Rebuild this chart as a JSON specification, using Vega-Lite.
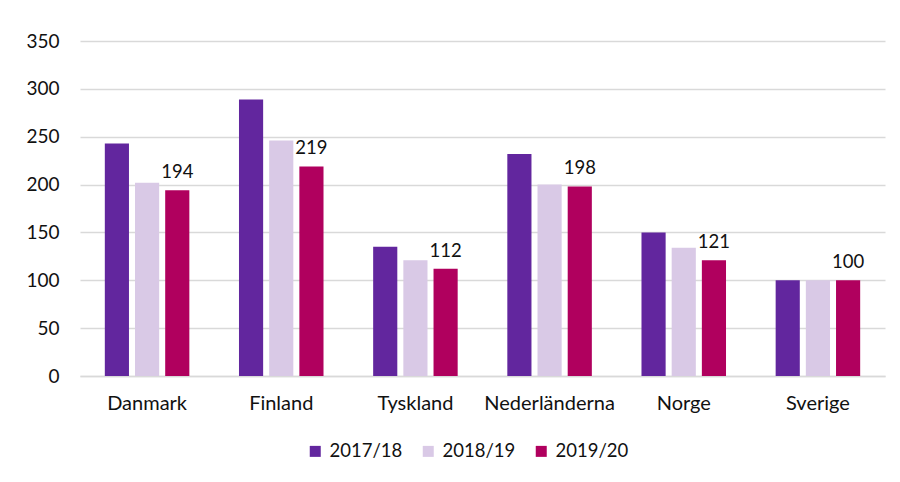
{
  "$schema": "https://vega.github.io/schema/vega-lite/v6.json",
  "width": 805,
  "height": 335,
  "autosize": {"type": "none"},
  "padding": {"left": 80, "top": 41, "right": 15, "bottom": 106},
  "background": "white",
  "config": {
    "font": "Lato",
    "view": {"stroke": null}
  },
  "data": {
    "values": [
      {"land": "Danmark", "ar": "2017/18", "v": 243},
      {"land": "Danmark", "ar": "2018/19", "v": 202},
      {"land": "Danmark", "ar": "2019/20", "v": 194},
      {"land": "Finland", "ar": "2017/18", "v": 289},
      {"land": "Finland", "ar": "2018/19", "v": 246},
      {"land": "Finland", "ar": "2019/20", "v": 219},
      {"land": "Tyskland", "ar": "2017/18", "v": 135},
      {"land": "Tyskland", "ar": "2018/19", "v": 121},
      {"land": "Tyskland", "ar": "2019/20", "v": 112},
      {"land": "Nederländerna", "ar": "2017/18", "v": 232},
      {"land": "Nederländerna", "ar": "2018/19", "v": 200},
      {"land": "Nederländerna", "ar": "2019/20", "v": 198},
      {"land": "Norge", "ar": "2017/18", "v": 150},
      {"land": "Norge", "ar": "2018/19", "v": 134},
      {"land": "Norge", "ar": "2019/20", "v": 121},
      {"land": "Sverige", "ar": "2017/18", "v": 100},
      {"land": "Sverige", "ar": "2018/19", "v": 100},
      {"land": "Sverige", "ar": "2019/20", "v": 100}
    ]
  },
  "encoding": {
    "x": {
      "field": "land", "type": "nominal", "sort": null,
      "scale": {"paddingInner": 0.37, "paddingOuter": 0.185},
      "axis": {"title": null, "labelAngle": 0, "labelFontSize": 20, "labelColor": "#111111", "labelPadding": 17, "ticks": false, "domain": true, "domainColor": "#d9d9d9", "domainWidth": 1.5, "grid": false}
    },
    "xOffset": {"field": "ar", "type": "nominal", "scale": {"paddingInner": 0.2, "paddingOuter": 0}},
    "y": {
      "field": "v", "type": "quantitative",
      "scale": {"domain": [0, 350], "nice": false},
      "axis": {"title": null, "values": [0, 50, 100, 150, 200, 250, 300, 350], "labelFontSize": 19, "labelColor": "#111111", "labelPadding": 21, "ticks": false, "domain": false, "gridColor": "#d9d9d9", "gridWidth": 1.5}
    }
  },
  "layer": [
    {
      "mark": {"type": "bar"},
      "encoding": {
        "color": {
          "field": "ar", "type": "nominal",
          "scale": {"domain": ["2017/18", "2018/19", "2019/20"], "range": ["#62269e", "#d9c9e6", "#b0005e"]},
          "legend": {
            "title": null, "orient": "none", "direction": "horizontal",
            "legendX": 226, "legendY": 401,
            "symbolType": "square", "symbolSize": 121, "symbolStrokeWidth": 0,
            "labelFontSize": 18.5, "labelColor": "#111111", "labelOffset": 5,
            "columnPadding": 16
          }
        }
      }
    },
    {
      "transform": [{"filter": "datum.ar === '2019/20'"}],
      "mark": {"type": "text", "baseline": "bottom", "dy": -8, "fontSize": 18.5, "color": "#111111"},
      "encoding": {"text": {"field": "v", "type": "quantitative"}}
    }
  ]
}
